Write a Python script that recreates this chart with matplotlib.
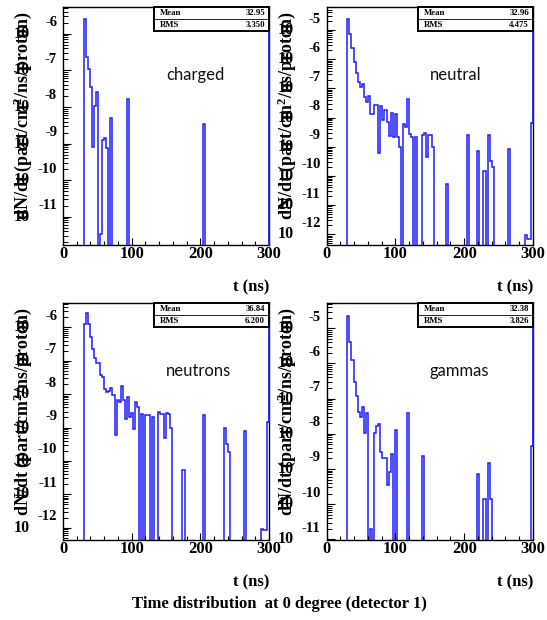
import numpy as np
import matplotlib
matplotlib.use("Agg")
import matplotlib.pyplot as plt
from matplotlib.patches import Rectangle
from matplotlib.ticker import FixedLocator, MultipleLocator, LogLocator, NullFormatter

plt.rcParams['font.family'] = ['Liberation Serif', 'DejaVu Serif']
plt.rcParams['font.weight'] = 'bold'
plt.rcParams['mathtext.fontset'] = 'custom'
plt.rcParams['mathtext.rm'] = 'Liberation Serif:bold'
plt.rcParams['mathtext.it'] = 'Liberation Serif:bold'
plt.rcParams['mathtext.bf'] = 'Liberation Serif:bold'
plt.rcParams['mathtext.default'] = 'rm'

# ---------------- data (bin start time in ns, log10 of dN/dt) ----------------
bin_width = 3
t_range = (0, 300)

charged_t = [30, 33, 36, 39, 42, 45, 48, 54, 57, 60, 63, 69, 93, 204]
charged_log10 = [-5.61, -6.63, -6.96, -7.46, -9.10, -7.98, -7.58, -11.48, -8.90, -8.84,
                 -9.13, -8.31, -7.78, -8.47]

neutral_t = [30, 33, 36, 39, 42, 45, 48, 51, 54, 57, 60, 63, 66, 69, 72, 75, 78, 81, 84, 87,
             90, 93, 96, 99, 102, 105, 111, 114, 117, 120, 123, 129, 138, 141, 144, 147, 150,
             153, 174, 204, 219, 228, 234, 237, 240, 264, 288, 291, 294, 297]
neutral_log10 = [-4.62, -5.14, -5.61, -6.08, -6.46, -6.79, -6.95, -6.84, -7.28, -7.47, -7.25,
                 -7.89, -7.89, -7.57, -7.57, -9.20, -7.60, -8.07, -7.74, -8.16, -8.62, -7.85,
                 -8.68, -7.88, -8.68, -9.02, -8.22, -8.34, -7.37, -8.57, -8.65, -8.65, -8.60,
                 -8.52, -9.36, -8.60, -8.60, -9.02, -10.27, -8.60, -9.13, -9.82, -8.60, -9.48,
                 -9.70, -9.08, -12.02, -12.17, -12.17, -8.20]

neutrons_t = [30, 33, 36, 39, 42, 45, 48, 51, 54, 57, 60, 63, 66, 69, 72, 75, 78, 81, 84, 87,
              90, 93, 96, 99, 102, 105, 108, 114, 120, 123, 129, 138, 141, 144, 147, 150, 153,
              156, 174, 204, 234, 237, 240, 264, 288, 291, 294, 297]
neutrons_log10 = [-5.91, -5.58, -5.91, -6.28, -6.66, -6.93, -7.08, -7.08, -7.43, -7.50, -7.86,
                  -7.93, -7.90, -7.83, -8.03, -9.22, -8.18, -8.24, -7.76, -8.18, -8.76, -8.08,
                  -8.68, -8.56, -9.03, -8.23, -8.38, -8.60, -8.62, -8.62, -8.68, -8.53, -8.60,
                  -8.60, -9.30, -8.58, -8.61, -9.00, -10.27, -8.63, -9.02, -9.49, -9.72, -9.10,
                  -12.05, -12.08, -12.08, -8.83]

gammas_t = [30, 33, 36, 39, 42, 45, 48, 51, 54, 57, 63, 69, 72, 75, 78, 81, 84, 87, 90, 93,
            99, 117, 138, 219, 228, 234, 237, 297]
gammas_log10 = [-4.65, -5.38, -5.90, -6.53, -6.92, -7.39, -7.51, -7.25, -7.98, -7.41, -10.71,
                -7.98, -7.78, -7.73, -8.53, -8.69, -8.69, -9.45, -9.10, -8.57, -7.89, -7.40,
                -8.62, -9.14, -9.85, -8.82, -9.85, -8.36]

panel_names = ["charged", "neutral", "neutrons", "gammas"]
stat_mean = ["32.95", "32.96", "36.84", "32.38"]
stat_rms = ["3.350", "4.475", "6.200", "3.826"]
y_log_limits = [(-11.77, -5.27), (-12.37, -4.21), (-12.37, -5.27), (-11.02, -4.28)]
x_tick_labels = ["0", "100", "200", "300"]
y_title = r"dN/dt (part/cm$^{2}$/ns/proton)"
x_title = "t (ns)"
main_title = "Time distribution  at 0 degree (detector 1)"

series_t = [charged_t, neutral_t, neutrons_t, gammas_t]
series_v = [charged_log10, neutral_log10, neutrons_log10, gammas_log10]

# ---------------- layout ----------------
W, H = 547, 620
fig = plt.figure(figsize=(W / 100, H / 100), dpi=100)
fig.patch.set_facecolor("white")

boxes = [(63, 7, 269, 245), (326.7, 7, 533, 245), (63, 303, 269, 540), (326.7, 303, 533, 540)]
BLUE = "#1c1cff"

edges = np.arange(t_range[0], t_range[1] + bin_width, bin_width)
nb = len(edges) - 1

for i, (l, t, r, b) in enumerate(boxes):
    ax = fig.add_axes([l / W, 1 - b / H, (r - l) / W, (b - t) / H])
    ylo, yhi = y_log_limits[i]
    ax.set_xlim(*t_range)
    ax.set_yscale('log')
    ax.set_ylim(10 ** ylo, 10 ** yhi)

    vals = np.full(nb, 1e-30)
    for tt, lv in zip(series_t[i], series_v[i]):
        vals[int(tt // bin_width)] = 10.0 ** lv
    ax.stairs(vals, edges, color=BLUE, lw=1.1, baseline=None)
    last = max(vals[-1], 10 ** ylo)
    ax.plot([t_range[1], t_range[1]], [last, 10 ** yhi], color=BLUE, lw=1.3, clip_on=False, zorder=5)

    for s in ax.spines.values():
        s.set_linewidth(1.0)
        s.set_color("black")

    # x ticks
    ax.xaxis.set_major_locator(FixedLocator([0, 100, 200, 300]))
    ax.xaxis.set_minor_locator(MultipleLocator(20))
    ax.set_xticklabels(x_tick_labels, fontsize=12, fontweight='bold')
    ax.tick_params(axis='x', which='major', direction='in', length=5, width=0.8, pad=1, top=False)
    ax.tick_params(axis='x', which='minor', direction='in', length=3, width=0.8, top=False)
    # y ticks
    ax.yaxis.set_major_locator(LogLocator(base=10, numticks=30))
    ax.yaxis.set_minor_locator(LogLocator(base=10, subs=np.arange(2, 10), numticks=30))
    ax.yaxis.set_major_formatter(NullFormatter())
    ax.yaxis.set_minor_formatter(NullFormatter())
    ax.tick_params(axis='y', which='major', direction='in', length=6, width=0.8, right=False)
    ax.tick_params(axis='y', which='minor', direction='in', length=3.5, width=0.7, right=False)

    # y labels of the form 10^d
    for d in range(int(np.ceil(ylo)), int(np.floor(yhi)) + 1):
        ax.annotate("10", xy=(0, 10.0 ** d), xycoords=('axes fraction', 'data'),
                    xytext=(-33, 0), textcoords='offset pixels', ha='right', va='center',
                    fontsize=11.5, fontweight='bold', annotation_clip=False)
        ax.annotate(str(d), xy=(0, 10.0 ** d), xycoords=('axes fraction', 'data'),
                    xytext=(-6, 11), textcoords='offset pixels', ha='right', va='center',
                    fontsize=10.5, fontweight='bold', annotation_clip=False)

    # axis titles
    ax.annotate(y_title, xy=(0, 1), xycoords='axes fraction', xytext=(-40, -4),
                textcoords='offset pixels', rotation=90, ha='center', va='top',
                fontsize=13, fontweight='bold', annotation_clip=False)
    ax.annotate(x_title, xy=(1, 0), xycoords='axes fraction', xytext=(0, -42),
                textcoords='offset pixels', ha='right', va='center',
                fontsize=12, fontweight='bold', annotation_clip=False)

    # panel name
    ax.text(0.50, 0.715, panel_names[i], transform=ax.transAxes, ha='left', va='center',
            fontsize=12, family=['Lato', 'DejaVu Sans'], fontweight='normal', color='#111111')

    # stats box
    bw, bh = 115, 24
    bx0 = r - bw
    fig.patches.append(Rectangle((bx0 / W, 1 - (t + bh) / H), bw / W, bh / H,
                                 transform=fig.transFigure, fill=True, facecolor='white',
                                 edgecolor='black', lw=1.4, zorder=10))
    fig.lines.append(plt.Line2D([bx0 / W, r / W], [1 - (t + 12) / H, 1 - (t + 12) / H],
                                transform=fig.transFigure, color='black', lw=0.6, zorder=11))
    for row, (lab, val) in enumerate([("Mean", stat_mean[i]), ("RMS", stat_rms[i])]):
        yy = 1 - (t + 6 + 12 * row) / H
        fig.text((bx0 + 6) / W, yy, lab, ha='left', va='center', fontsize=6.3,
                 fontweight='bold', zorder=12)
        fig.text((r - 4) / W, yy, val, ha='right', va='center', fontsize=6.3,
                 fontweight='bold', zorder=12)

fig.text(279 / W, 1 - 604 / H, main_title, ha='center', va='center', fontsize=12,
         fontweight='bold')

fig.savefig("out.png", dpi=100, facecolor="white")
